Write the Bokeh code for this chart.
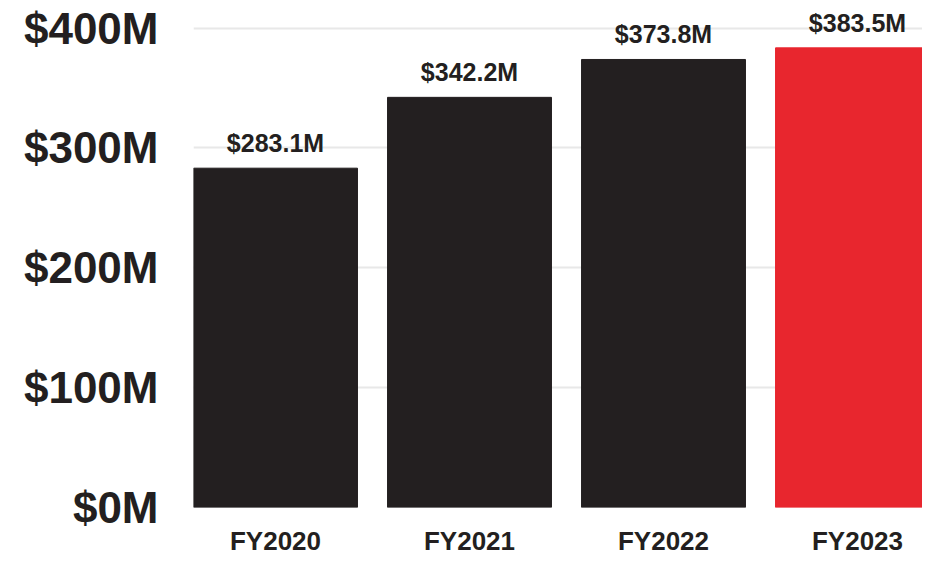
from bokeh.plotting import figure
from bokeh.models import ColumnDataSource, Range1d, FixedTicker
from bokeh.embed import file_html
from bokeh.resources import INLINE
from bokeh.core.properties import value

years = ["FY2020", "FY2021", "FY2022", "FY2023"]
revenue = [283.1, 342.2, 373.8, 383.5]
value_labels = ["$283.1M", "$342.2M", "$373.8M", "$383.5M"]
bar_colors = ["#231f20", "#231f20", "#231f20", "#e8262e"]
y_ticks = [0, 100, 200, 300, 400]
y_tick_labels = ["$0M", "$100M", "$200M", "$300M", "$400M"]

xs = list(range(len(years)))
src = ColumnDataSource(dict(x=xs, top=revenue, color=bar_colors, label=value_labels))

p = figure(width=922, height=558, output_backend="svg", toolbar_location=None,
           x_range=Range1d(-0.4227, 3.335), y_range=Range1d(0, 423),
           min_border_left=193, min_border_right=0, min_border_top=0, min_border_bottom=49)
p.outline_line_color = None
p.background_fill_color = "white"

p.vbar(x="x", top="top", bottom=0, width=0.845, color="color", source=src)
p.text(x="x", y="top", text="label", source=src, text_align="center",
       text_baseline="alphabetic", y_offset=-25, text_font=value("Liberation Sans"),
       text_font_size="25px", text_font_style="bold", text_color="#231f20")

p.xaxis.ticker = FixedTicker(ticks=xs)
p.xaxis.major_label_overrides = {i: y for i, y in enumerate(years)}
p.yaxis.ticker = FixedTicker(ticks=y_ticks)
p.yaxis.major_label_overrides = {t: l for t, l in zip(y_ticks, y_tick_labels)}

for ax in (p.xaxis, p.yaxis):
    ax.axis_line_color = None
    ax.major_tick_line_color = None
    ax.minor_tick_line_color = None
    ax.major_label_text_font = "Liberation Sans"
    ax.major_label_text_font_style = "bold"
    ax.major_label_text_color = "#231f20"

p.xaxis.major_label_text_font_size = "26px"
p.xaxis.major_label_standoff = 12
p.yaxis.major_label_text_font_size = "44px"
p.yaxis.major_label_standoff = 29

p.xgrid.grid_line_color = None
p.ygrid.grid_line_color = "#e8e8e8"
p.ygrid.grid_line_width = 2

open("out.html", "w").write(file_html(p, INLINE))
